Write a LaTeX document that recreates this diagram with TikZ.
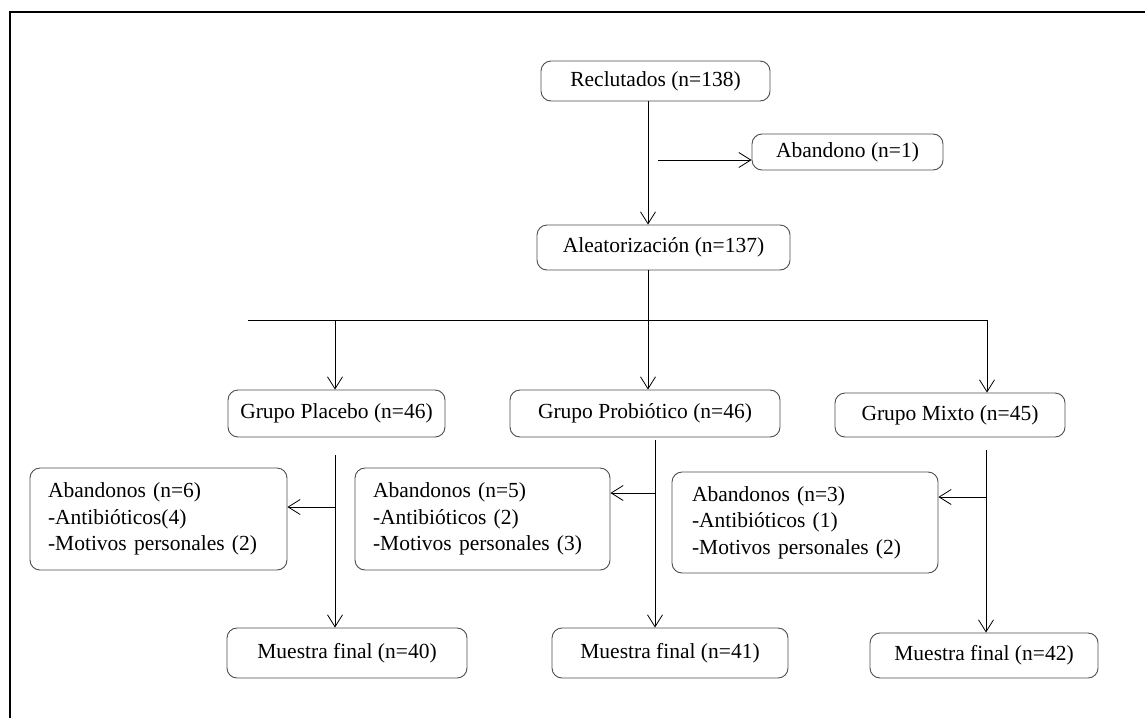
\documentclass[tikz,border=0pt]{standalone}
\usepackage{fontspec}
\setmainfont{Liberation Serif}
\usetikzlibrary{arrows.meta}
\tikzset{
  box/.style={draw=black!70, line width=0.9pt, rounded corners=10pt, align=center,
    inner sep=0pt, font=\fontsize{21.5}{26.5}\selectfont},
  listbox/.style={box, align=left},
  link/.style={line width=0.8pt, -{Straight Barb[length=12pt,width=15pt]}},
  plain/.style={line width=0.8pt},
  frame/.style={line width=1.3pt}
}
\begin{document}
\begin{tikzpicture}[x=1pt,y=-1pt]
  \useasboundingbox (0,0) rectangle (1145,718);
  % page frame (top and left rules)
  \draw[frame] (10,718) -- (10,12) -- (1145,12);

  % boxes
  \node[box, minimum width=229pt, minimum height=40pt] (rec) at (655.5,81) {Reclutados (n=138)};
  \node[box, minimum width=191pt, minimum height=36pt] (aba) at (847.5,152) {Abandono (n=1)};
  \node[box, minimum width=253pt, minimum height=45pt] (ale) at (663.5,247.5) {Aleatorización (n=137)};

  \node[box, minimum width=217pt, minimum height=47pt] (pla) at (336.5,413.5) {Grupo Placebo (n=46)};
  \node[box, minimum width=270pt, minimum height=47pt] (pro) at (645,413.5) {Grupo Probiótico (n=46)};
  \node[box, minimum width=230pt, minimum height=44pt] (mix) at (950,415) {Grupo Mixto (n=45)};

  \node[listbox, minimum width=257pt, minimum height=102pt, text width=221pt] (ab1) at (158.5,519)
    {Abandonos (n=6)\\-Antibióticos(4)\\-Motivos personales (2)};
  \node[listbox, minimum width=255pt, minimum height=102pt, text width=219pt] (ab2) at (482.5,519)
    {Abandonos (n=5)\\-Antibióticos (2)\\-Motivos personales (3)};
  \node[listbox, minimum width=266pt, minimum height=101pt, text width=226pt] (ab3) at (805,522.5)
    {Abandonos (n=3)\\-Antibióticos (1)\\-Motivos personales (2)};

  \node[box, minimum width=240pt, minimum height=50pt] (mf1) at (347,653) {Muestra final (n=40)};
  \node[box, minimum width=236pt, minimum height=50pt] (mf2) at (670,653) {Muestra final (n=41)};
  \node[box, minimum width=228pt, minimum height=45pt] (mf3) at (984,655.5) {Muestra final (n=42)};

  % helper points for the connectors
  \coordinate (axis) at (648,0);
  \coordinate (side) at (658,160);
  \coordinate (hl) at (248,320);
  \coordinate (hr) at (988,320);
  \coordinate (dp) at (335,320);
  \coordinate (dm) at (987,320);
  \coordinate (p0) at (335,455);
  \coordinate (q0) at (655,440);
  \coordinate (m0) at (986,450);
  \coordinate (pb) at (335,507);
  \coordinate (qb) at (655,493);
  \coordinate (mb) at (986,497);

  % top part
  \draw[link] (rec.south -| axis) -- (ale.north -| axis);
  \draw[link] (side) -- (side -| aba.west);

  % split into three groups
  \draw[plain] (ale.south -| axis) -- (axis |- hl);
  \draw[plain] (hl) -- (hr);
  \draw[link] (dp) -- (pla.north -| dp);
  \draw[link] (axis |- hl) -- (pro.north -| axis);
  \draw[link] (dm) -- (mix.north -| dm);

  % follow-up of each group
  \draw[link] (p0) -- (mf1.north -| p0);
  \draw[link] (pb) -- (pb -| ab1.east);
  \draw[link] (q0) -- (mf2.north -| q0);
  \draw[link] (qb) -- (qb -| ab2.east);
  \draw[link] (m0) -- (mf3.north -| m0);
  \draw[link] (mb) -- (mb -| ab3.east);
\end{tikzpicture}
\end{document}
